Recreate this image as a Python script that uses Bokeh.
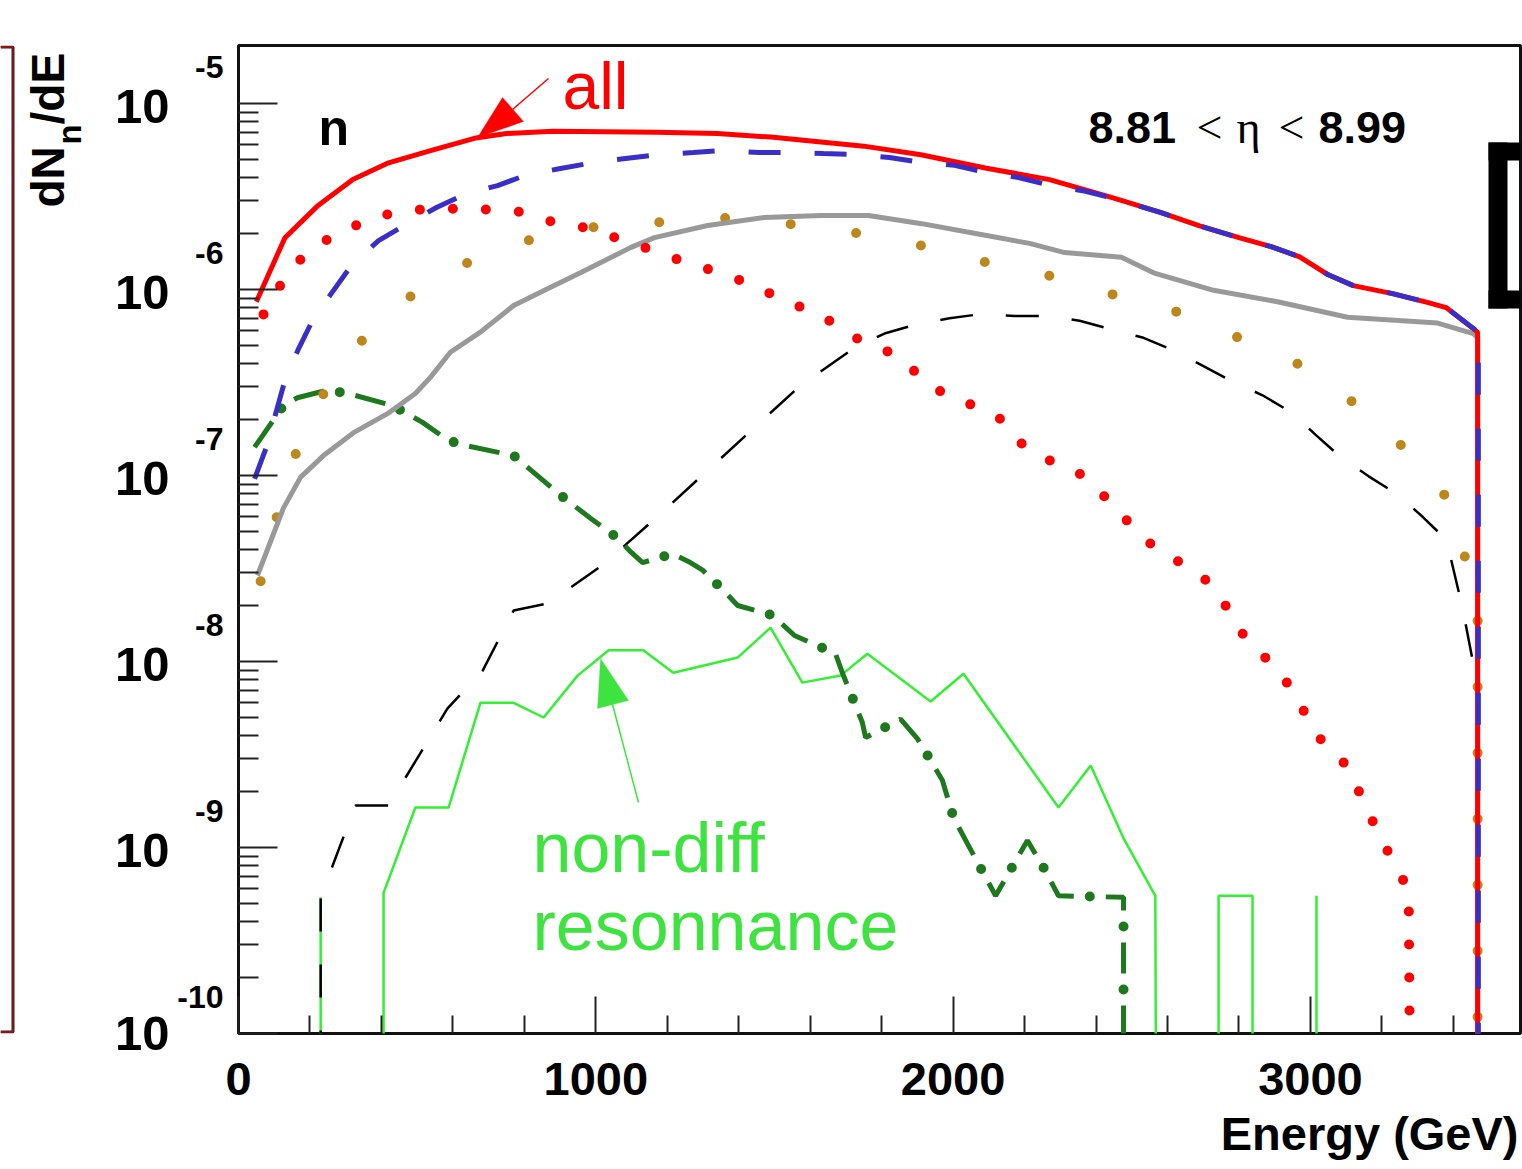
import numpy as np
from bokeh.plotting import figure
from bokeh.layouts import row
from bokeh.models import (Range1d, FixedTicker, CustomJSTickFormatter, Label, Arrow,
                          PolyAnnotation, BoxAnnotation, AllLabels, Title, LogAxis)
from bokeh.embed import file_html
from bokeh.resources import INLINE

# ---------------- data ----------------
# energy in GeV, dN/dE values; 0 = empty bin (drawn down to the axis floor)
all_E = [50, 130, 220, 320, 420, 540, 660, 750, 880, 1170, 1340, 1490, 1750, 1910, 2090,
         2270, 2450, 2580, 2690, 2800, 2890, 2970, 3050, 3120, 3230, 3330, 3380, 3468, 3468]
all_v = [8.6e-7, 1.9e-6, 2.8e-6, 3.9e-6, 4.8e-6, 5.6e-6, 6.5e-6, 6.9e-6, 7.1e-6, 7.0e-6,
         6.9e-6, 6.6e-6, 5.9e-6, 5.3e-6, 4.5e-6, 3.9e-6, 3.1e-6, 2.6e-6, 2.2e-6, 1.9e-6,
         1.7e-6, 1.5e-6, 1.2e-6, 1.05e-6, 9.5e-7, 8.5e-7, 8.0e-7, 5.9e-7, 0]

blue_E = [45, 78, 129, 168, 210, 266, 322, 392, 473, 554, 638, 725, 809, 901, 994, 1083,
          1178, 1273, 1357, 1458, 1542, 1637, 1727, 1822, 1912, 2004, 2093, 2183, 2273,
          2362, 2452, 2580, 2690, 2800, 2890, 2970, 3050, 3120, 3230, 3330, 3380, 3470, 3470]
blue_v = [9.6e-8, 1.42e-7, 3.2e-7, 4.8e-7, 7.0e-7, 9.9e-7, 1.4e-6, 1.83e-6, 2.26e-6,
          2.76e-6, 3.28e-6, 3.62e-6, 4.15e-6, 4.47e-6, 4.82e-6, 5.06e-6, 5.32e-6, 5.45e-6,
          5.59e-6, 5.45e-6, 5.45e-6, 5.38e-6, 5.32e-6, 5.13e-6, 4.82e-6, 4.65e-6, 4.26e-6,
          4.0e-6, 3.62e-6, 3.4e-6, 3.08e-6, 2.6e-6, 2.2e-6, 1.9e-6, 1.7e-6, 1.5e-6, 1.2e-6,
          1.05e-6, 9.5e-7, 8.5e-7, 8.0e-7, 5.9e-7, 0]

reddot_E = [70, 118, 176, 252, 333, 423, 509, 605, 694, 786, 876, 966, 1055, 1145, 1229,
            1318, 1405, 1489, 1576, 1660, 1735, 1822, 1895, 1968, 2051, 2135, 2194, 2275,
            2359, 2427, 2491, 2558, 2636, 2712, 2771, 2818, 2885, 2944, 2989, 3037, 3107,
            3146, 3185, 3230, 3275, 3289]
reddot_v = [7.35e-7, 1.06e-6, 1.47e-6, 1.88e-6, 2.23e-6, 2.56e-6, 2.69e-6, 2.72e-6, 2.69e-6,
            2.62e-6, 2.32e-6, 2.16e-6, 1.90e-6, 1.66e-6, 1.45e-6, 1.28e-6, 1.12e-6, 9.5e-7,
            8.0e-7, 6.7e-7, 5.4e-7, 4.6e-7, 3.6e-7, 2.8e-7, 2.4e-7, 2.0e-7, 1.47e-7, 1.19e-7,
            1.01e-7, 7.6e-8, 5.6e-8, 4.2e-8, 3.4e-8, 2.7e-8, 1.9e-8, 1.33e-8, 1.0e-8, 7.3e-9,
            5.1e-9, 3.6e-9, 2.7e-9, 1.8e-9, 1.25e-9, 8.5e-10, 5.9e-10, 0]

gold_E = [62, 109, 165, 249, 364, 507, 669, 845, 1024, 1209, 1391, 1576, 1755, 1940, 2116,
          2295, 2471, 2648, 2818, 2989, 3135, 3272, 3392, 3442, 3468, 3468]
gold_v = [2.7e-8, 6.2e-8, 1.4e-7, 3.05e-7, 5.9e-7, 1.01e-6, 1.49e-6, 1.93e-6, 2.21e-6,
          2.32e-6, 2.44e-6, 2.21e-6, 1.98e-6, 1.68e-6, 1.36e-6, 1.16e-6, 9.1e-7, 7.4e-7,
          5.3e-7, 3.8e-7, 2.35e-7, 1.35e-7, 7.2e-8, 3.1e-8, 2.0e-8, 0]

gray_E = [53, 126, 174, 238, 322, 417, 495, 537, 593, 677, 770, 865, 957, 1097, 1164, 1313,
          1472, 1632, 1763, 1912, 2063, 2214, 2312, 2471, 2561, 2729, 2908, 3104, 3356,
          3456, 3468, 3468]
gray_v = [2.9e-8, 6.7e-8, 9.8e-8, 1.28e-7, 1.70e-7, 2.15e-7, 2.76e-7, 3.37e-7, 4.6e-7,
          5.9e-7, 8.2e-7, 1.01e-6, 1.23e-6, 1.68e-6, 1.90e-6, 2.21e-6, 2.44e-6, 2.50e-6,
          2.50e-6, 2.26e-6, 2.0e-6, 1.77e-6, 1.58e-6, 1.49e-6, 1.23e-6, 9.9e-7, 8.6e-7,
          7.1e-7, 6.6e-7, 5.8e-7, 5.5e-7, 0]

black_E = [230, 230, 327, 420, 585, 683, 770, 865, 1019, 1159, 1503, 1573, 1727, 1808, 1898,
           1990, 2082, 2172, 2261, 2354, 2443, 2533, 2617, 2698, 2782, 2866, 2944, 3014,
           3084, 3163, 3244, 3314, 3381, 3426, 3465, 3465]
black_v = [0, 5.4e-10, 1.68e-9, 1.68e-9, 5.6e-9, 8.9e-9, 1.88e-8, 2.05e-8, 3.3e-8, 5.7e-8,
           2.3e-7, 3.05e-7, 4.9e-7, 5.8e-7, 6.5e-7, 7.0e-7, 7.4e-7, 7.2e-7, 7.2e-7, 6.8e-7,
           6.1e-7, 5.5e-7, 4.7e-7, 3.9e-7, 3.2e-7, 2.7e-7, 2.2e-7, 1.66e-7, 1.26e-7, 9.9e-8,
           7.9e-8, 6.0e-8, 4.5e-8, 1.93e-8, 7.9e-9, 0]

dgreen_E = [45, 126, 165, 243, 297, 431, 515, 588, 635, 770, 806, 910, 985, 1061, 1094, 1131,
            1215, 1259, 1299, 1363, 1397, 1495, 1556, 1671, 1690, 1746, 1755, 1853, 1900,
            1970, 2001, 2040, 2119, 2208, 2253, 2295, 2477, 2477]
dgreen_v = [1.42e-7, 2.38e-7, 2.62e-7, 2.86e-7, 2.79e-7, 2.38e-7, 1.93e-7, 1.54e-7, 1.45e-7,
            1.28e-7, 1.12e-7, 7.6e-8, 5.9e-8, 4.6e-8, 3.95e-8, 3.4e-8, 3.8e-8, 3.45e-8,
            3.1e-8, 2.35e-8, 2.0e-8, 1.77e-8, 1.38e-8, 1.10e-8, 8.7e-9, 4.7e-9, 3.9e-9,
            4.9e-9, 3.85e-9, 2.3e-9, 1.45e-9, 1.05e-9, 5.5e-10, 1.09e-9, 7.8e-10, 5.5e-10,
            5.4e-10, 0]

lgreen_E = [230, 230, 230, 406, 406, 495, 588, 677, 770, 854, 949, 1036, 1133, 1217, 1397,
            1489, 1578, 1685, 1760, 1937, 2029, 2295, 2385, 2477, 2566, 2572, 2743, 2743,
            2838, 2838, 3017, 3017, 3017]
lgreen_v = [0, 5.4e-10, 0, 0, 5.7e-10, 1.64e-9, 1.64e-9, 6.0e-9, 6.0e-9, 5.0e-9, 8.4e-9,
            1.15e-8, 1.15e-8, 8.7e-9, 1.05e-8, 1.52e-8, 7.7e-9, 8.4e-9, 1.10e-8, 6.1e-9,
            8.6e-9, 1.64e-9, 2.76e-9, 1.12e-9, 5.5e-10, 0, 0, 5.5e-10, 5.5e-10, 0, 0,
            5.5e-10, 0]

x_major = [0, 1000, 2000, 3000]
x_minor = [200, 400, 600, 800, 1200, 1400, 1600, 1800, 2200, 2400, 2600, 2800, 3200, 3400]
y_exponents = [-5, -6, -7, -8, -9, -10]

# ---------------- page geometry (pixels of the 1522x1169 page) ----------------
PAGE_W, PAGE_H = 1522, 1169
PX0, PX1 = 238, 1520        # frame left / right
PY0, PY1 = 45, 1033         # frame top / bottom
XMAX = 3588.0
YLOG0, YLOG1 = -10.0, -4.688
DEC_PX = (PY1 - PY0) / (YLOG1 - YLOG0)
EMPTY = 1e-13               # empty bins fall below the axis floor
WG = 100                    # width of the left strip (axis title, neighbour edge)
MID = 0.3465                # label anchor sits at the text middle: shift by this * size

def X(px):
    return (px - PX0) / (PX1 - PX0) * XMAX

def Y(py):
    return 10 ** (YLOG0 + (PY1 - py) / DEC_PX)

def fl(v):
    return [a if a > 0 else EMPTY for a in v]

def fpx(size):
    return float(size.replace("px", ""))

# ---------------- main plot ----------------
p = figure(frame_width=PX1 - PX0, frame_height=PY1 - PY0,
           x_range=Range1d(0, XMAX), y_range=Range1d(10 ** YLOG0, 10 ** YLOG1),
           y_axis_type="log", toolbar_location=None, output_backend="svg",
           min_border_left=PX0 - WG, min_border_right=PAGE_W - PX1,
           min_border_top=PY0, min_border_bottom=PAGE_H - PY1,
           background_fill_color="white", border_fill_color="white", title=None)
p.xgrid.visible = False
p.ygrid.visible = False
p.outline_line_color = "#111111"
p.outline_line_width = 3

xa = p.xaxis[0]
ya = p.yaxis[0]
xa.ticker = FixedTicker(ticks=x_major, minor_ticks=x_minor)
ya.ticker = FixedTicker(ticks=[10.0 ** e for e in y_exponents],
                        minor_ticks=[k * 10.0 ** e for e in y_exponents[1:] for k in range(2, 10)])
ya.formatter = CustomJSTickFormatter(code="return ''")

# exponent labels (ROOT style 10^-n): one axis for the raised exponents, one for the "10"
EXP_RAISE = 36.5 / DEC_PX
BASE_DROP = 3.0 / DEC_PX
exp_axis = LogAxis(
    ticker=FixedTicker(ticks=[10.0 ** (e + EXP_RAISE) for e in y_exponents], minor_ticks=[]),
    formatter=CustomJSTickFormatter(args=dict(s=EXP_RAISE),
                                    code="return String(Math.round(Math.log10(tick) - s))"))
base_axis = LogAxis(
    ticker=FixedTicker(ticks=[10.0 ** (e - BASE_DROP) if e > YLOG0 else 10.0 ** e
                              for e in y_exponents], minor_ticks=[]),
    formatter=CustomJSTickFormatter(code="return '10'"))
p.add_layout(exp_axis, "left")
p.add_layout(base_axis, "left")

for ax in (xa, ya, exp_axis, base_axis):
    ax.axis_line_color = None
    ax.major_tick_out = 0
    ax.minor_tick_out = 0
    ax.major_tick_line_color = "#222222"
    ax.minor_tick_line_color = "#222222"
    ax.major_tick_line_width = 2
    ax.minor_tick_line_width = 2
    ax.major_label_text_font = "Liberation Sans"
    ax.major_label_text_font_style = "bold"
    ax.major_label_text_color = "black"
    ax.major_label_policy = AllLabels()
for ax in (exp_axis, base_axis):
    ax.major_tick_in = 0
    ax.minor_tick_in = 0
    ax.major_tick_line_color = None
    ax.minor_tick_line_color = None
xa.major_tick_in = 37
xa.minor_tick_in = 18
xa.major_label_text_font_size = "47px"
xa.major_label_standoff = 29
ya.major_tick_in = 39
ya.minor_tick_in = 20
ya.major_label_standoff = 0
exp_axis.major_label_text_font_size = "32px"
exp_axis.major_label_standoff = 15
base_axis.major_label_text_font_size = "49px"
base_axis.major_label_standoff = 5

p.add_layout(Title(text="Energy (GeV)", align="right", text_font="Liberation Sans",
                   text_font_style="bold", text_font_size="47px", text_color="black",
                   standoff=15, offset=2), "below")

# ---------------- curves ----------------
p.line(lgreen_E, fl(lgreen_v), line_color="#33f033", line_width=2.5)
p.line(black_E, fl(black_v), line_color="black", line_width=2.5, line_dash="33 33")
p.line(dgreen_E, fl(dgreen_v), line_color="#1e781e", line_width=5, line_dash="31 32")
p.line(dgreen_E, fl(dgreen_v), line_color="#1e781e", line_width=10, line_dash="0 63",
       line_dash_offset=16, line_cap="round")
p.line(gold_E, fl(gold_v), line_color="#be871e", line_width=10, line_dash="0 66",
       line_cap="round")
p.line(gray_E, fl(gray_v), line_color="#999999", line_width=5)
p.line(reddot_E, fl(reddot_v), line_color="#ff0000", line_width=10, line_dash="0 33",
       line_cap="round")
p.line(all_E, fl(all_v), line_color="#ff0000", line_width=5)
p.line(blue_E, fl(blue_v), line_color="#3a2ec8", line_width=5, line_dash="32 34")

# ---------------- texts in the frame (px, baseline py) ----------------
def lab(px, py, text, size, color="black", style="normal", font="Liberation Sans"):
    p.add_layout(Label(x=X(px), y=Y(py - MID * fpx(size)), text=text, text_align="left",
                       text_baseline="alphabetic", text_font=font,
                       text_font_style=style, text_font_size=size, text_color=color))

lab(318, 145, "n", "50px", style="bold")
lab(1088, 143, "8.81", "45px", style="bold")
lab(1196, 143, "<", "46px", font="Liberation Serif")
lab(1236, 143, "η", "46px", font="Liberation Serif")
lab(1278, 143, "<", "46px", font="Liberation Serif")
lab(1318, 143, "8.99", "45px", style="bold")
lab(562, 108, "all", "66px", color="#ff0000")
lab(532, 872, "non-diff", "70px", color="#3fe33f")
lab(532, 950, "resonnance", "70px", color="#3fe33f")

# arrows
p.add_layout(Arrow(x_start=X(548), y_start=Y(78), x_end=X(512), y_end=Y(109), end=None,
                   line_color="#ff0000", line_width=1.5))
p.add_layout(PolyAnnotation(xs=[X(477), X(502), X(523)], ys=[Y(137), Y(97), Y(121)],
                            fill_color="#ff0000", fill_alpha=1.0, line_color="#ff0000",
                            line_width=1))
p.add_layout(Arrow(x_start=X(638), y_start=Y(802), x_end=X(612), y_end=Y(704), end=None,
                   line_color="#3fe33f", line_width=1.5))
p.add_layout(PolyAnnotation(xs=[X(600), X(597), X(628)], ys=[Y(658), Y(708), Y(700)],
                            fill_color="#3fe33f", fill_alpha=1.0, line_color="#3fe33f",
                            line_width=1))

# bracket fragment at the right
for (l, r, t, b) in [(1488, 1507, 142, 308), (1488, 1530, 142, 160), (1488, 1530, 290, 308)]:
    p.add_layout(BoxAnnotation(left=X(l), right=X(r), top=Y(t), bottom=Y(b),
                               fill_color="black", fill_alpha=1.0, line_color=None))

# ---------------- left strip: y-axis title and neighbouring panel edge ----------------
# its frame is aligned with the main frame (page y 45..1033); coordinates are page pixels
g = figure(width=WG, height=PAGE_H, x_range=Range1d(0, WG), y_range=Range1d(PY1, PY0),
           toolbar_location=None, output_backend="svg", min_border=0,
           x_axis_location=None, y_axis_location=None, title=None)
g.grid.visible = False
g.outline_line_color = None

def glab(bx, py, text, size):
    # rotated text: bx = baseline x, py = where the text starts (bottom end)
    g.add_layout(Label(x=bx - MID * fpx(size), y=py, text=text, text_align="left",
                       text_baseline="alphabetic", text_font="Liberation Sans",
                       text_font_style="bold", text_font_size=size, text_color="black",
                       angle=np.pi / 2))

glab(63, 207, "dN", "46px")
glab(80, 144, "n", "33px")
glab(63, 124, "/dE", "46px")

NB_X = 12.5
edge_x = [0, NB_X, NB_X, 0]
edge_y = [PY0 + 1.5, PY0 + 1.5, PY1 - 1.5, PY1 - 1.5]
g.line(edge_x, edge_y, line_color="#222222", line_width=3)
g.line(edge_x, edge_y, line_color="#b01010", line_width=1.3)

layout = row(g, p, spacing=0)
open("out.html", "w").write(file_html(layout, INLINE))
